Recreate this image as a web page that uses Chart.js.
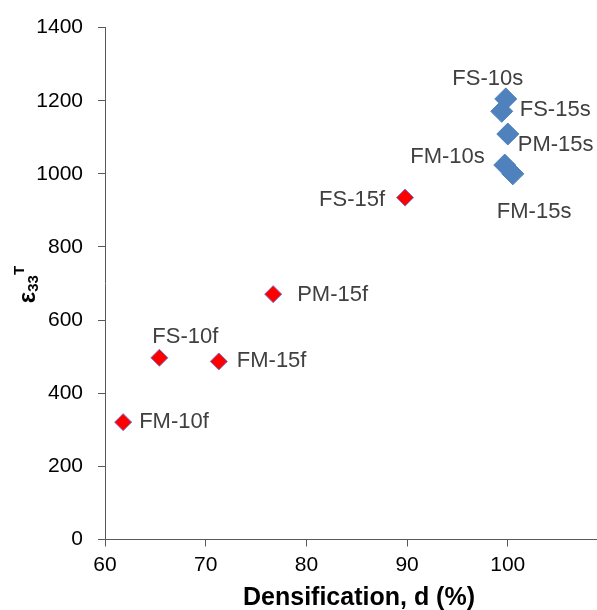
<!DOCTYPE html>
<html>
<head>
<meta charset="utf-8">
<script src="https://cdn.jsdelivr.net/npm/chart.js@4/dist/chart.umd.min.js"></script>
<style>
  body { margin: 0; background: #fff; }
  #wrap { width: 597px; height: 610px; }
</style>
</head>
<body>
<div id="wrap"><canvas id="myChart" width="597" height="610"></canvas></div>
<script>
/* data */
var sinteredNames = ['FS-10s', 'FS-15s', 'PM-15s', 'FM-10s', 'FM-15s'];
var sinteredD     = [99.8, 99.4, 100.0, 99.7, 100.5];
var sinteredEps   = [1205, 1171, 1109, 1024, 1000];

var fastNames = ['FM-10f', 'FS-10f', 'FM-15f', 'PM-15f', 'FS-15f'];
var fastD     = [61.8, 65.4, 71.3, 76.7, 89.8];
var fastEps   = [321, 497, 487, 671, 935];

var xTicks = [60, 70, 80, 90, 100];
var yTicks = [0, 200, 400, 600, 800, 1000, 1200, 1400];

/* where each label sits relative to its marker: dx, dy, align */
var sinteredLabelPos = [[-18, -20, 'center'], [18, -1, 'left'], [10, 11, 'left'], [-20, -8, 'right'], [-16, 38, 'left']];
var fastLabelPos = [[16, 0, 'left'], [26, -21, 'center'], [18, 0, 'left'], [24, 1, 'left'], [-20, 2, 'right']];

function toPoints(xs, ys) {
    var pts = [];
    for (var i = 0; i < xs.length; i++) pts.push({x: xs[i], y: ys[i]});
    return pts;
}

var FONT = "'Liberation Sans', Arial, sans-serif";

/* text next to the markers + axis titles (y one has sub/superscript) */
var labelPlugin = {
    id: 'pointLabels',
    afterDatasetsDraw: function(chart) {
        var ctx = chart.ctx;
        var names = [sinteredNames, fastNames];
        var pos = [sinteredLabelPos, fastLabelPos];
        ctx.save();
        ctx.font = '22px ' + FONT;
        ctx.fillStyle = '#404040';
        ctx.textBaseline = 'middle';
        for (var d = 0; d < 2; d++) {
            var meta = chart.getDatasetMeta(d);
            meta.data.forEach(function(el, i) {
                var p = pos[d][i];
                ctx.textAlign = p[2];
                ctx.fillText(names[d][i], el.x + p[0], el.y + p[1]);
            });
        }
        ctx.restore();

        // x axis title
        ctx.save();
        ctx.fillStyle = '#000';
        ctx.font = 'bold 25px ' + FONT;
        ctx.textAlign = 'center';
        ctx.textBaseline = 'middle';
        ctx.fillText('Densification, d (%)', 359, 598);
        ctx.restore();

        // y axis title
        var area = chart.chartArea;
        ctx.save();
        ctx.translate(35, (area.top + area.bottom) / 2 + 1);
        ctx.rotate(-Math.PI / 2);
        ctx.fillStyle = '#000';
        ctx.textBaseline = 'alphabetic';
        ctx.textAlign = 'left';
        ctx.font = 'bold 24px ' + FONT;
        var w1 = ctx.measureText('\u03b5').width;
        ctx.font = 'bold 15px ' + FONT;
        var w2 = ctx.measureText('33').width;
        var w3 = ctx.measureText('T').width;
        var x0 = -(w1 + w2 + w3) / 2;
        ctx.font = 'bold 24px ' + FONT;
        ctx.fillText('\u03b5', x0, 0);
        ctx.font = 'bold 15px ' + FONT;
        ctx.fillText('33', x0 + w1, 3);
        ctx.fillText('T', x0 + w1 + w2, -11);
        ctx.restore();
    }
};

var ctx = document.getElementById('myChart');

var myChart = new Chart(ctx, {
    type: 'scatter',
    data: {
        datasets: [{
            label: 'sintered',
            data: toPoints(sinteredD, sinteredEps),
            pointStyle: 'rectRot',
            pointRadius: 11,
            backgroundColor: '#4f81bd',
            borderColor: '#4f81bd',
            borderWidth: 1
        }, {
            label: 'fast',
            data: toPoints(fastD, fastEps),
            pointStyle: 'rectRot',
            pointRadius: 8.5,
            backgroundColor: '#ff0000',
            borderColor: '#7373c8',
            borderWidth: 1
        }]
    },
    options: {
        responsive: false,
        animation: false,
        layout: { autoPadding: false, padding: { top: 25, right: 0, left: 0, bottom: 0 } },
        plugins: {
            legend: { display: false },
            tooltip: { enabled: false }
        },
        scales: {
            x: {
                type: 'linear',
                min: 60,
                max: 108.86,
                afterBuildTicks: function(scale) {
                    scale.ticks = xTicks.map(function(v) { return {value: v}; });
                },
                afterFit: function(scale) {
                    scale.height = 70.5;
                    scale.paddingLeft = 0;
                    scale.paddingRight = 0;
                },
                grid: { drawOnChartArea: false, tickLength: 7, color: '#595959' },
                border: { color: '#595959', width: 1 },
                ticks: {
                    color: '#000', padding: 6, font: { size: 21, family: FONT },
                    callback: function(v) { return String(v); }
                }
            },
            y: {
                type: 'linear',
                min: 0,
                max: 1400,
                afterBuildTicks: function(scale) {
                    scale.ticks = yTicks.map(function(v) { return {value: v}; });
                },
                afterFit: function(scale) { scale.width = 105; },
                grid: { drawOnChartArea: false, tickLength: 7, color: '#595959' },
                border: { color: '#595959', width: 1 },
                ticks: {
                    color: '#000', padding: 15, font: { size: 21, family: FONT },
                    callback: function(v) { return String(v); }
                }
            }
        }
    },
    plugins: [labelPlugin]
});
</script>
</body>
</html>
